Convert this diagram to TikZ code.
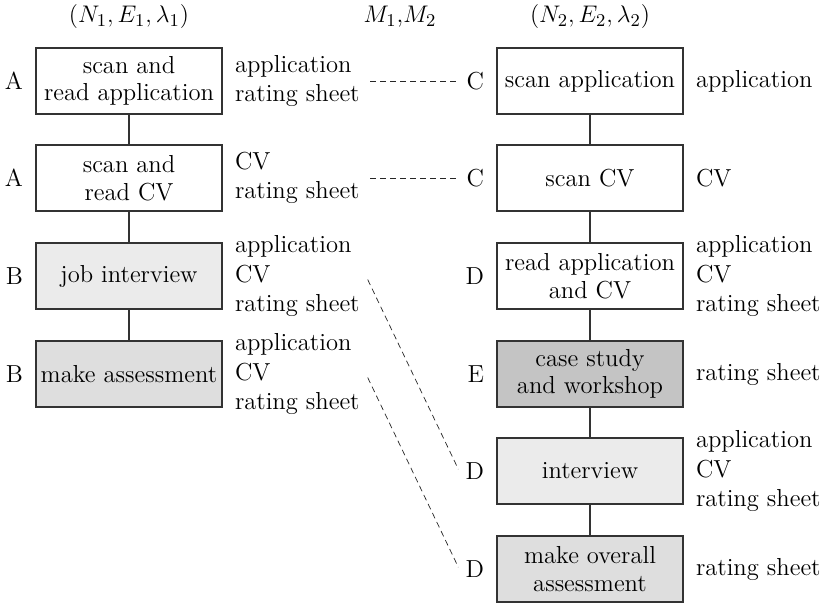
\documentclass[tikz,border=0pt]{standalone}
\usetikzlibrary{positioning}
\begin{document}
\begin{tikzpicture}[x=0.5pt,y=-0.5pt,
  every node/.style={font=\fontsize{12.3}{13.8}\selectfont},
  task/.style={draw=black!80, line width=0.6pt, minimum width=93pt, minimum height=33pt,
    inner sep=1pt, align=center},
  tag/.style={inner sep=3pt},
  docs/.style={inner sep=3pt, align=left, font=\fontsize{12.3}{14.6}\selectfont},
  flow/.style={draw=black!80, line width=0.6pt},
  corr/.style={draw=black!85, line width=0.5pt, dash pattern=on 3pt off 2pt},
  corrd/.style={draw=black!85, line width=0.35pt, dash pattern=on 3pt off 2pt}]
\useasboundingbox (0,0) rectangle (825,605);

% column headers
\node (h1) at (129,17) {$(N_1,E_1,\lambda_1)$};
\node (hm) at (400,17) {$M_1$,$M_2$};
\node (h2) at (590,17) {$(N_2,E_2,\lambda_2)$};

% first process
\node[task] (a1) at (129,81)  {scan and\\read application};
\node[task] (a2) at (129,178) {scan and\\read CV};
\node[task, fill=black!8] (a3) at (129,276) {job interview};
\node[task, fill=black!13] (a4) at (129,374) {make assessment};

\node[tag, left=3pt of a1] (ta1) {A};
\node[tag, left=3pt of a2] (ta2) {A};
\node[tag, left=3pt of a3] (ta3) {B};
\node[tag, left=3pt of a4] (ta4) {B};

\node[docs, right=3pt of a1] (da1) {application\\rating sheet};
\node[docs, right=3pt of a2] (da2) {CV\\rating sheet};
\node[docs, right=3pt of a3] (da3) {application\\CV\\rating sheet};
\node[docs, right=3pt of a4] (da4) {application\\CV\\rating sheet};

\draw[flow] (a1) -- (a2);
\draw[flow] (a2) -- (a3);
\draw[flow] (a3) -- (a4);

% second process
\node[task] (b1) at (590,81)  {scan application};
\node[task] (b2) at (590,178) {scan CV};
\node[task] (b3) at (590,276) {read application\\and CV};
\node[task, fill=black!23] (b4) at (590,374) {case study\\and workshop};
\node[task, fill=black!8] (b5) at (590,471) {interview};
\node[task, fill=black!13] (b6) at (590,569) {make overall\\assessment};

\node[tag, left=3pt of b1] (tb1) {C};
\node[tag, left=3pt of b2] (tb2) {C};
\node[tag, left=3pt of b3] (tb3) {D};
\node[tag, left=3pt of b4] (tb4) {E};
\node[tag, left=3pt of b5] (tb5) {D};
\node[tag, left=3pt of b6] (tb6) {D};

\node[docs, right=3pt of b1] (db1) {application};
\node[docs, right=3pt of b2] (db2) {CV};
\node[docs, right=3pt of b3] (db3) {application\\CV\\rating sheet};
\node[docs, right=3pt of b4] (db4) {rating sheet};
\node[docs, right=3pt of b5] (db5) {application\\CV\\rating sheet};
\node[docs, right=3pt of b6] (db6) {rating sheet};

\draw[flow] (b1) -- (b2);
\draw[flow] (b2) -- (b3);
\draw[flow] (b3) -- (b4);
\draw[flow] (b4) -- (b5);
\draw[flow] (b5) -- (b6);

% correspondences M1, M2
\draw[corr, shorten <=2pt, shorten >=2pt] (da1.east) -- (tb1.west);
\draw[corr, shorten <=2pt, shorten >=2pt] (da2.east) -- (tb2.west);
\draw[corrd, shorten <=2pt, shorten >=1pt] (da3.east) -- (tb5.west);
\draw[corrd, shorten <=2pt, shorten >=1pt] (da4.east) -- (tb6.west);
\end{tikzpicture}
\end{document}
